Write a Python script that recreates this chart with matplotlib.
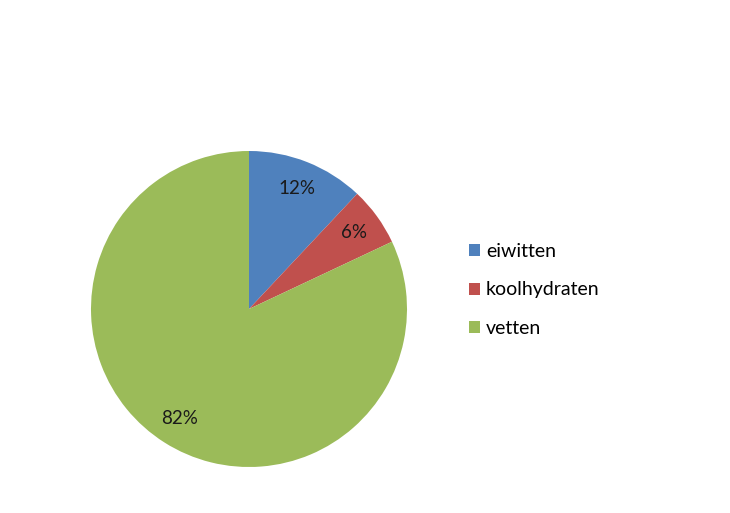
import matplotlib.pyplot as plt
import matplotlib.patches as patches

# data
categories = ['eiwitten', 'koolhydraten', 'vetten']
values = [12, 6, 82]
colors = ['#4F81BD', '#C0504D', '#9BBB59']

W, H = 730, 513
plt.rcParams['font.family'] = ['Lato', 'DejaVu Sans']


def main():
    fig = plt.figure(figsize=(W / 100, H / 100), dpi=100)
    ax = fig.add_axes([0, 0, 1, 1])

    wedges, texts, autotexts = ax.pie(
        values, colors=colors, startangle=90, counterclock=False,
        center=(249, H - 309), radius=158, autopct='%.0f%%', pctdistance=0.82,
        wedgeprops=dict(linewidth=0), textprops=dict(fontsize=13.5, color='#1a1a1a'),
        frame=True)
    ax.set_xlim(0, W)
    ax.set_ylim(0, H)
    ax.set_aspect('equal')
    ax.axis('off')

    handles = [patches.Patch(facecolor=c, edgecolor='none') for c in colors]
    ax.legend(handles, categories, loc='upper left',
              bbox_to_anchor=(469 / W, 1 - 243 / H), frameon=False,
              fontsize=14, handlelength=0.57, handleheight=0.57,
              handletextpad=0.3, labelspacing=1.1, borderpad=0,
              borderaxespad=0)

    fig.savefig('out.png', dpi=100)


if __name__ == "__main__":
    main()
